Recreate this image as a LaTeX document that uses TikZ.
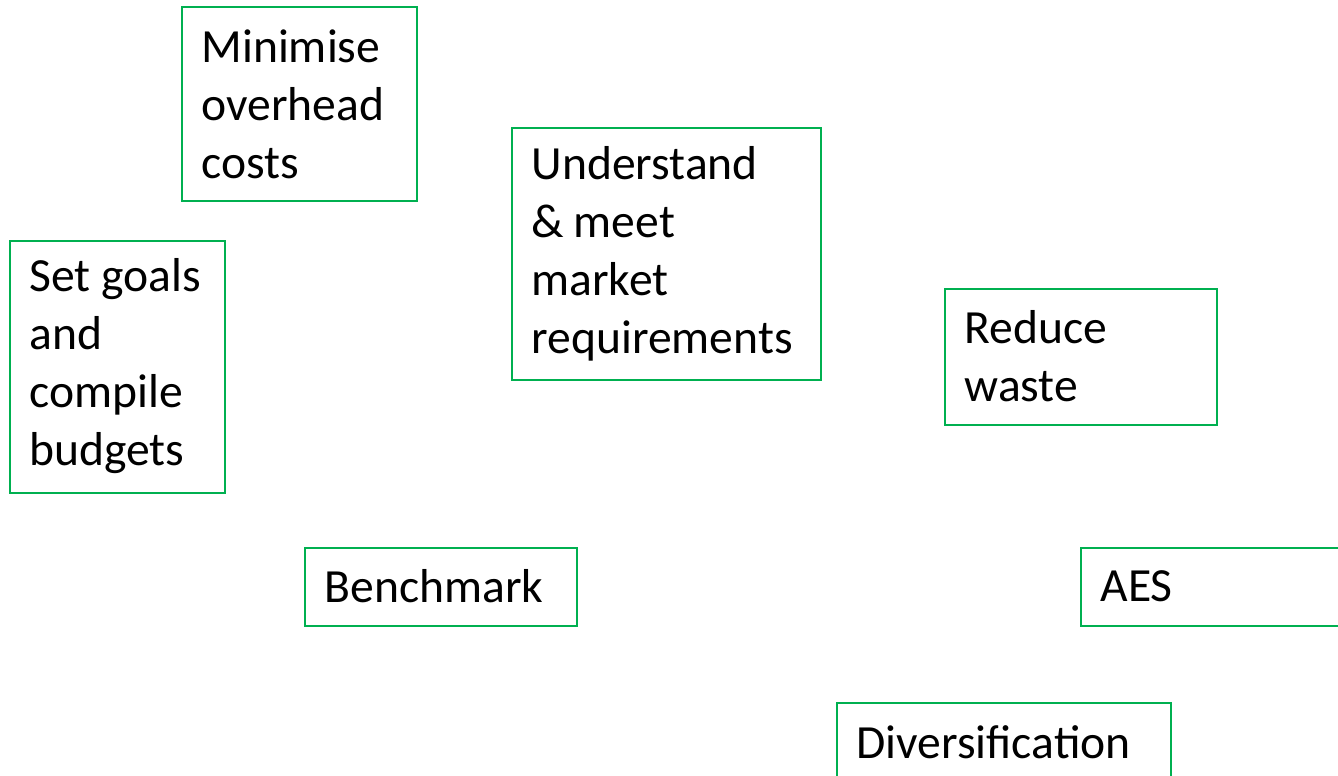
\documentclass[tikz,border=0pt]{standalone}
\usepackage{fontspec}
\setmainfont{Carlito}
\definecolor{boxgreen}{RGB}{0,176,80}
\begin{document}
\begin{tikzpicture}[x=1pt,y=-1pt,
  gbox/.style={draw=boxgreen, line width=2pt, anchor=north west, inner xsep=20pt, inner ysep=0pt,
    align=left, font=\fontsize{47.6}{58}\selectfont, text=black}]
\useasboundingbox (0,0) rectangle (1338,776);
\clip (0,0) rectangle (1338,776);
\node[gbox, text width=195pt, minimum height=193pt] (minimise) at (180.5,6.5) {Minimise\\overhead\\costs};
\node[gbox, text width=175pt, minimum height=252pt] (goals) at (8.5,239.5) {\mbox{Set\hspace{-5pt} goals}\\and\\compile\\budgets};
\node[gbox, text width=269pt, minimum height=252pt] (market) at (510.5,126.5) {Understand\\\&\hspace{-6pt} meet\\market\\requirements};
\node[gbox, text width=232pt, minimum height=136pt] (waste) at (943.5,287.5) {Reduce\\waste};
\node[gbox, text width=232pt, minimum height=78pt] (bench) at (303.5,546.5) {Benchmark};
\node[gbox, text width=232pt, minimum height=78pt] (aes) at (1079.5,546.5) {AES};
\node[gbox, text width=294pt, minimum height=80pt] (divers) at (835.5,701.5) {Diversification};
\end{tikzpicture}
\end{document}
